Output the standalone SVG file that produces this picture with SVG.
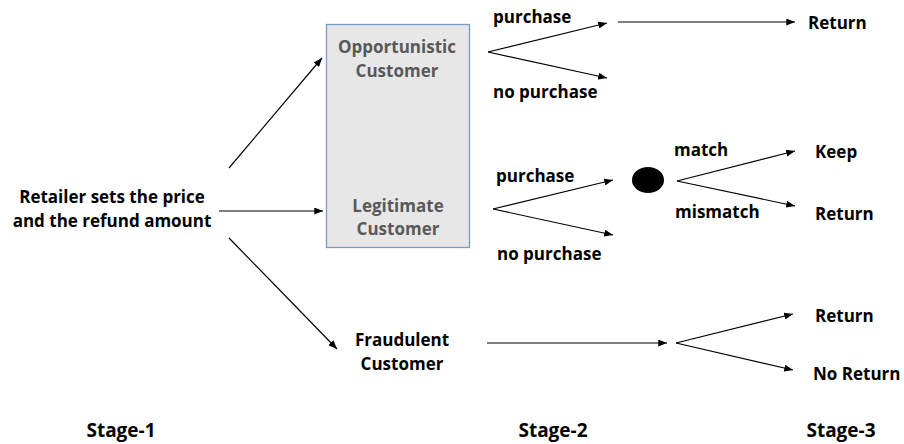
<svg xmlns="http://www.w3.org/2000/svg" width="904" height="444" viewBox="0 0 904 444">
<defs>
<style>
text{font-family:"Open Sans","Liberation Sans",sans-serif;font-weight:700;font-size:17px;fill:#000}
.g{fill:#595959}
.c{text-anchor:middle}
.s{font-size:19px}
.ln{stroke:#000;stroke-width:1.2;fill:none}
</style>
<marker id="ah" markerUnits="userSpaceOnUse" viewBox="0 0 10 8" refX="10" refY="4" markerWidth="9" markerHeight="7" orient="auto">
<path d="M0,0 L10,4 L0,8 Z" fill="#000"/>
</marker>
</defs>
<rect width="904" height="444" fill="#fff"/>
<g id="retailer">
<text class="c" x="112" y="203">Retailer sets the price</text>
<text class="c" x="112" y="227">and the refund amount</text>
</g>
<g id="box">
<rect x="326.5" y="24.5" width="143" height="223" fill="#e7e7e7" stroke="#7a9cc6" stroke-width="1.3"/>
</g>
<g id="opportunistic">
<text class="c g" x="397" y="53">Opportunistic</text>
<text class="c g" x="397" y="77">Customer</text>
</g>
<g id="legitimate">
<text class="c g" x="398" y="212">Legitimate</text>
<text class="c g" x="398" y="235">Customer</text>
</g>
<g id="fraudulent">
<text class="c" x="402" y="346">Fraudulent</text>
<text class="c" x="402" y="370">Customer</text>
</g>
<g id="chance">
<ellipse cx="648" cy="180" rx="16" ry="13" fill="#000"/>
</g>
<g id="labels">
<text x="493" y="23">purchase</text>
<text x="493" y="98">no purchase</text>
<text x="496" y="182">purchase</text>
<text x="497" y="260">no purchase</text>
<text x="674" y="156">match</text>
<text x="675" y="218">mismatch</text>
<text x="808" y="29">Return</text>
<text x="815" y="158">Keep</text>
<text x="815" y="220">Return</text>
<text x="815" y="322">Return</text>
<text x="813" y="380">No Return</text>
</g>
<g id="stages">
<text class="c s" x="121" y="437">Stage-1</text>
<text class="c s" x="553" y="437">Stage-2</text>
<text class="c s" x="841" y="437">Stage-3</text>
</g>
<g id="connectors" class="ln" marker-end="url(#ah)">
<line x1="229" y1="168" x2="322" y2="58"/>
<line x1="219" y1="211" x2="323" y2="211"/>
<line x1="229" y1="238" x2="337" y2="349"/>
<path d="M488,52 L607,23"/>
<path d="M488,52 L607,78"/>
<line x1="618" y1="22" x2="795" y2="22"/>
<path d="M493,209 L613,180"/>
<path d="M493,209 L613,235"/>
<path d="M677,181 L795,151"/>
<path d="M677,181 L795,206"/>
<line x1="487" y1="343" x2="667" y2="343"/>
<path d="M676,343 L793,314"/>
<path d="M676,343 L793,370"/>
</g>
</svg>
